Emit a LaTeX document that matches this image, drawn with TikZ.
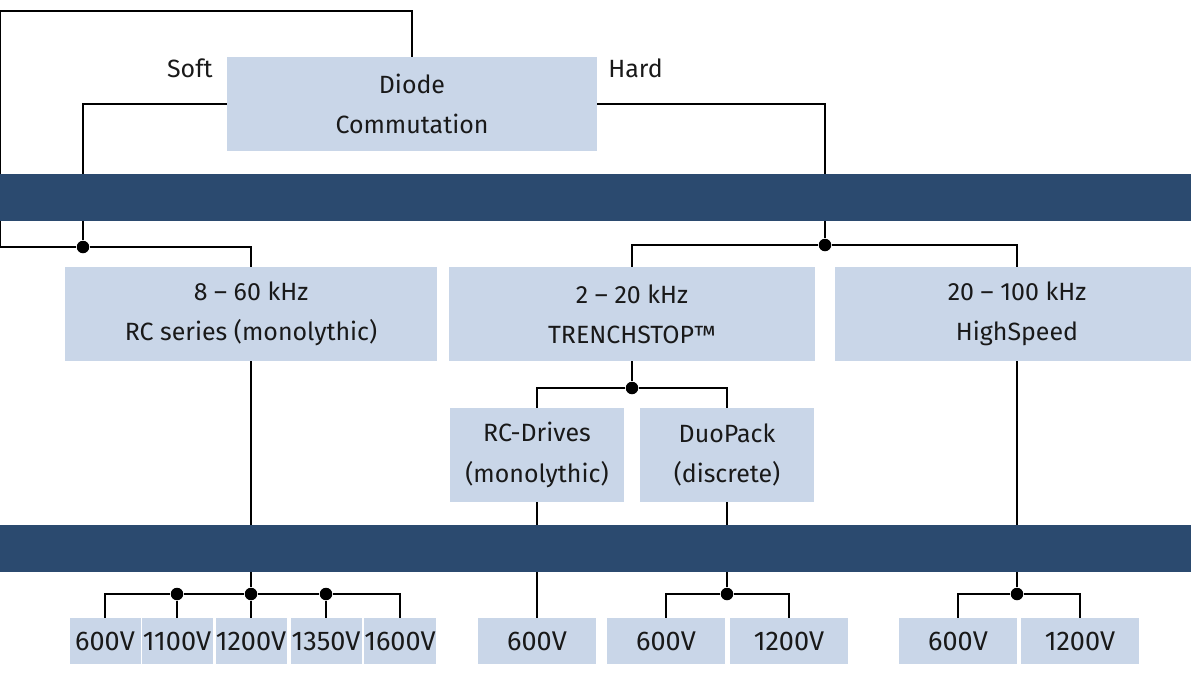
\documentclass[tikz,border=0pt]{standalone}
\usepackage{fontspec}
\setmainfont{Fira Sans}
\usetikzlibrary{backgrounds}
\definecolor{boxblue}{RGB}{201,214,232}
\definecolor{bandnavy}{RGB}{43,74,111}
\definecolor{ink}{RGB}{25,25,25}
\tikzset{
  box/.style={fill=boxblue,inner sep=0pt,align=center,text=ink,
    minimum width=#1*0.02cm,minimum height=1.88cm,
    font=\fontsize{14.2}{23}\selectfont},
  volt/.style={box=#1,minimum height=0.92cm,font=\fontsize{15.4}{18}\selectfont},
  lbl/.style={inner sep=0pt,text=ink,font=\fontsize{14.2}{23}\selectfont},
  band/.style={fill=bandnavy},
  dot/.style={circle,fill=black,inner sep=0pt,minimum size=0.25cm},
  wire/.style={draw=black,line width=1.2pt},
}
\begin{document}
\begin{tikzpicture}[x=0.02cm,y=-0.02cm]
  \useasboundingbox (0,0) rectangle (1191,674);
  % bands
  \fill[band] (0,174) rectangle (1191,221);
  \fill[band] (0,525) rectangle (1191,572);
  % commutation
  \node[box=370] (diode) at (412,104) {Diode\\Commutation};
  \node[lbl,anchor=base east] (soft) at (213,77) {Soft};
  \node[lbl,anchor=base west] (hard) at (608,77) {Hard};
  % families
  \node[box=372] (rc) at (251,314) {8 \textendash{} 60 kHz\\RC series (monolythic)};
  \node[box=366] (ts) at (632,314) {2 \textendash{} 20 kHz\\TRENCHSTOP\texttrademark};
  \node[box=364] (hs) at (1017,314) {20 \textendash{} 100 kHz\\HighSpeed};
  \node[box=174] (rcd) at (537,455) {RC-Drives\\(monolythic)};
  \node[box=174] (duo) at (727,455) {DuoPack\\(discrete)};
  % voltage classes
  \foreach \n/\x/\t in {a/105/600V,b/177/1100V,c/251/1200V,d/326/1350V,e/400/1600V}
    \node[volt=71] (va\n) at (\x,641) {\t};
  \node[volt=118] (vb) at (537,641) {600V};
  \node[volt=118] (vc1) at (666,641) {600V};
  \node[volt=118] (vc2) at (789,641) {1200V};
  \node[volt=118] (vd1) at (958,641) {600V};
  \node[volt=118] (vd2) at (1080,641) {1200V};
  % junctions
  \node[dot] (j1) at (83,247) {};
  \node[dot] (j2) at (825,245) {};
  \node[dot] (j3) at (632,388) {};
  \node[dot] (j4l) at (177,594) {};
  \node[dot] (j4) at (251,594) {};
  \node[dot] (j4r) at (326,594) {};
  \node[dot] (j5) at (727,594) {};
  \node[dot] (j6) at (1017,594) {};
  \coordinate (tl) at (0,11);
  \coordinate (bl) at (0,247);
  \begin{scope}[on background layer]
    \draw[wire] (diode.north) |- (tl) -- (bl) -- (j1);
    \draw[wire] (diode.west) -| (j1) -| (rc.north);
    \draw[wire] (diode.east) -| (j2) -| (ts.north);
    \draw[wire] (j2) -| (hs.north);
    \draw[wire] (ts.south) -- (j3) -| (rcd.north);
    \draw[wire] (j3) -| (duo.north);
    \draw[wire] (rc.south) -- (j4) -- (vac.north);
    \draw[wire] (vaa.north) |- (j4l) -- (j4) -- (j4r) -| (vae.north);
    \draw[wire] (j4l) -- (vab.north);
    \draw[wire] (j4r) -- (vad.north);
    \draw[wire] (rcd.south) -- (vb.north);
    \draw[wire] (duo.south) -- (j5) -| (vc1.north);
    \draw[wire] (j5) -| (vc2.north);
    \draw[wire] (hs.south) -- (j6) -| (vd1.north);
    \draw[wire] (j6) -| (vd2.north);
  \end{scope}
\end{tikzpicture}
\end{document}
